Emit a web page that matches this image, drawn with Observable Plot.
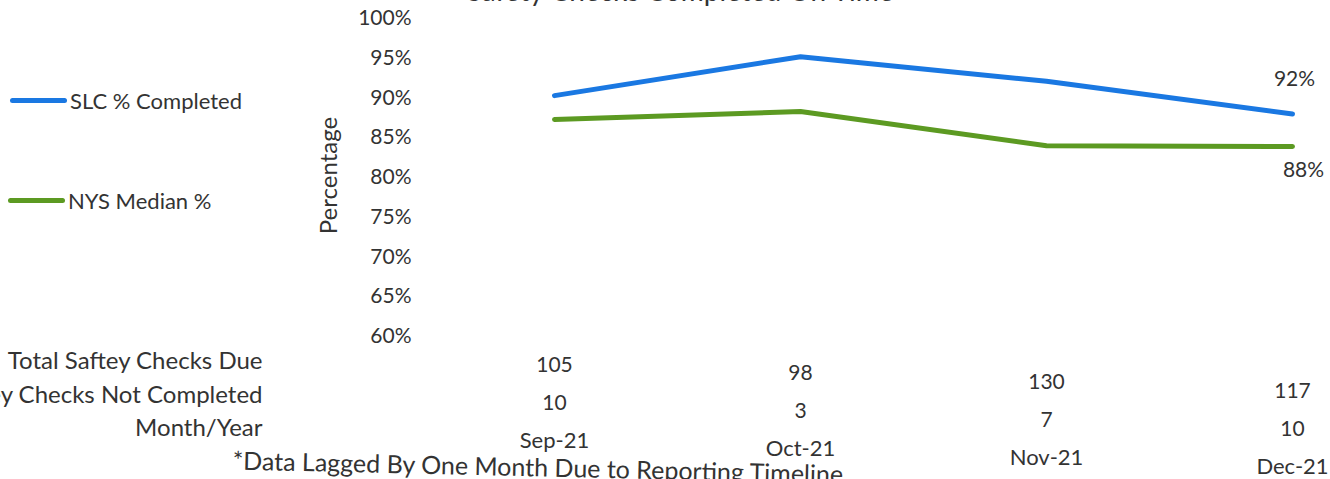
<!DOCTYPE html>
<html>
<head>
<meta charset="utf-8">
<script src="https://cdn.jsdelivr.net/npm/d3@7"></script>
<script src="https://cdn.jsdelivr.net/npm/@observablehq/plot@0.6"></script>
<style>
  html, body { margin: 0; padding: 0; background: #fff; overflow: hidden; }
  #wrap { position: relative; width: 1330px; height: 479px; font-family: Lato, "Open Sans", sans-serif; color: #333; }
  .leg { position: absolute; display: flex; align-items: center; font-size: 22px; white-space: nowrap; }
  .sw { width: 57px; height: 5px; border-radius: 3px; margin-right: 3px; }
</style>
</head>
<body>
<div id="wrap"></div>
<script>
// ---- data ----
const months = ["Sep-21", "Oct-21", "Nov-21", "Dec-21"];
const slcCompleted = [90.3, 95.2, 92.1, 88.0];
const nysMedian = [87.3, 88.3, 84.0, 83.9];
const totalDue = [105, 98, 130, 117];
const notCompleted = [10, 3, 7, 10];
const yTicks = [60, 65, 70, 75, 80, 85, 90, 95, 100];
const seriesNames = ["SLC % Completed", "NYS Median %"];
const seriesColors = ["#1a78e2", "#5c9a22"];
const endLabels = ["92%", "88%"];
const rowLabels = ["Total Saftey Checks Due", "Saftey Checks Not Completed", "Month/Year"];
const titleText = "Safety Checks Completed On Time";
const footnote = "*Data Lagged By One Month Due to Reporting Timeline";

// ---- build ----
const W = 1330, H = 479;
const mL = 553, mR = 37, mT = 18, mB = 143;
const slcRows = months.map((m, i) => ({month: m, value: slcCompleted[i]}));
const nysRows = months.map((m, i) => ({month: m, value: nysMedian[i]}));
const ink = "#333";

const tableRows = [
  months.map((m, i) => ({month: m, t: String(totalDue[i])})),
  months.map((m, i) => ({month: m, t: String(notCompleted[i])})),
  months.map((m, i) => ({month: m, t: m}))
];
const rowDy = [35, 73, 111];   // offsets below the frame
const rowFont = [21, 21, 22];
const skew = 8.9;             // scan tilt per column
const tableMarks = [];
tableRows.forEach((row, r) => {
  row.forEach((d, i) => {
    tableMarks.push(Plot.text([d], {
      x: "month", frameAnchor: "bottom", text: "t",
      dy: rowDy[r] + skew * i, fontSize: rowFont[r], fill: ink
    }));
  });
});

const rowLabelDy = [32, 66, 99];
const rowLabelMarks = rowLabels.map((t, r) => Plot.text([t], {
  frameAnchor: "bottom-left", text: d => d, textAnchor: "end",
  dx: 262 - mL, dy: rowLabelDy[r], fontSize: 24, fill: ink
}));

const chart = Plot.plot({
  width: W, height: H,
  marginLeft: mL, marginRight: mR, marginTop: mT, marginBottom: mB,
  style: {fontFamily: "Lato, 'Open Sans', sans-serif", color: ink, background: "white", overflow: "visible"},
  x: {type: "point", domain: months, padding: 0, axis: null},
  y: {domain: [60, 100], axis: null},
  marks: [
    Plot.axisY(yTicks, {
      anchor: "left", tickSize: 0, tickPadding: mL - 411,
      tickFormat: d => d + "%", fontSize: 21, fill: ink,
      label: null
    }),
    Plot.text(["Percentage"], {
      frameAnchor: "left", text: d => d, rotate: -90, textAnchor: "middle",
      dx: 329 - mL, dy: -2, fontSize: 24, fill: ink
    }),
    Plot.text([titleText], {
      frameAnchor: "top-left", text: d => d, textAnchor: "end", lineAnchor: "bottom",
      dx: 893 - mL, dy: 0 - mT, fontSize: 28, fill: ink
    }),
    Plot.line(slcRows, {x: "month", y: "value", stroke: seriesColors[0], strokeWidth: 5, strokeLinecap: "round", strokeLinejoin: "round"}),
    Plot.line(nysRows, {x: "month", y: "value", stroke: seriesColors[1], strokeWidth: 5, strokeLinecap: "round", strokeLinejoin: "round"}),
    Plot.text([slcRows[slcRows.length - 1]], {x: "month", y: "value", text: () => endLabels[0], dx: 2, dy: -35, fontSize: 21, fill: ink}),
    Plot.text([nysRows[nysRows.length - 1]], {x: "month", y: "value", text: () => endLabels[1], dx: 11, dy: 24, fontSize: 21, fill: ink}),
    ...tableMarks,
    ...rowLabelMarks,
    Plot.text([footnote], {
      frameAnchor: "bottom-left", text: d => d, textAnchor: "start",
      dx: 232 - mL, dy: 133, rotate: 1.3, fontSize: 25, fill: ink
    })
  ]
});

const wrap = document.getElementById("wrap");
wrap.appendChild(chart);

const legTops = [102, 202];
seriesNames.forEach((name, i) => {
  const el = document.createElement("div");
  el.className = "leg";
  el.style.left = (i === 0 ? 10 : 8) + "px";
  el.style.top = (legTops[i] - 15) + "px";
  el.innerHTML = `<span class="sw" style="background:${seriesColors[i]}"></span><span>${name}</span>`;
  wrap.appendChild(el);
});
</script>
</body>
</html>
